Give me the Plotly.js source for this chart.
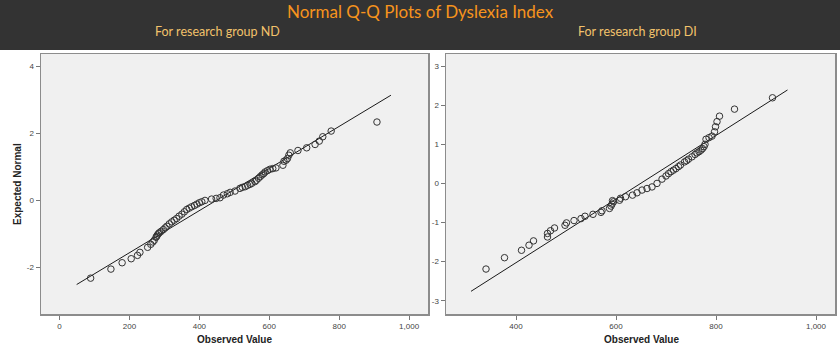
<!DOCTYPE html>
<html>
<head>
<meta charset="utf-8">
<script src="https://cdn.plot.ly/plotly-3.0.1.min.js"></script>
<style>html,body{margin:0;padding:0;background:#fff;}#chart{width:840px;height:356px;}</style>
</head>
<body>
<div id="chart"></div>
<script>
// ---- Data ----
// Group ND: observed value vs expected normal
const ndObserved = [89,147,179,205,223,230,252,261,267,271,276,278,280,283,286,291,297,302,307,314,321,328,335,342,350,357,364,371,378,386,393,400,407,416,435,448,459,469,480,488,502,516,523,531,538,545,550,559,563,569,574,579,584,588,595,602,610,619,639,642,648,652,656,660,682,707,731,743,753,777,908];
const ndExpected = [-2.32,-2.05,-1.86,-1.74,-1.64,-1.55,-1.40,-1.31,-1.24,-1.19,-1.10,-1.07,-1.03,-0.99,-0.96,-0.92,-0.87,-0.82,-0.77,-0.70,-0.64,-0.59,-0.54,-0.47,-0.41,-0.34,-0.27,-0.23,-0.19,-0.15,-0.11,-0.07,-0.04,0.00,0.04,0.06,0.08,0.16,0.20,0.24,0.28,0.36,0.39,0.41,0.45,0.48,0.51,0.56,0.60,0.66,0.71,0.76,0.80,0.85,0.89,0.93,0.95,0.97,1.05,1.17,1.20,1.25,1.35,1.42,1.49,1.57,1.67,1.77,1.90,2.07,2.34];
const ndLineX = [49, 948];
const ndLineY = [-2.51, 3.14];

// Group DI
const diObserved = [340,377,411,426,435,463,463,469,477,498,501,516,530,538,554,570,572,587,590,592,593,595,607,609,619,633,642,652,662,672,682,692,700,705,710,715,720,725,729,737,741,745,752,758,762,766,770,773,776,778,780,786,792,797,799,802,807,837,913];
const diExpected = [-2.19,-1.90,-1.71,-1.58,-1.47,-1.37,-1.28,-1.21,-1.14,-1.07,-1.01,-0.95,-0.90,-0.84,-0.79,-0.74,-0.70,-0.64,-0.58,-0.53,-0.44,-0.47,-0.43,-0.38,-0.34,-0.30,-0.24,-0.17,-0.13,-0.09,0.00,0.11,0.19,0.25,0.30,0.34,0.38,0.43,0.47,0.55,0.58,0.62,0.68,0.74,0.78,0.81,0.85,0.89,0.94,1.00,1.13,1.17,1.21,1.32,1.45,1.58,1.72,1.90,2.19];
const diLineX = [310, 943];
const diLineY = [-2.76, 2.39];

// Tick labels
const ndXTicks = [0, 200, 400, 600, 800, 1000];
const ndXTickText = ["0", "200", "400", "600", "800", "1,000"];
const ndYTicks = [4, 2, 0, -2];
const ndYTickText = ["4", "2", "0", "-2"];
const diXTicks = [400, 600, 800, 1000];
const diXTickText = ["400", "600", "800", "1,000"];
const diYTicks = [3, 2, 1, 0, -1, -2, -3];
const diYTickText = ["3", "2", "1", "0", "-1", "-2", "-3"];

// Texts
const mainTitle = "Normal Q-Q Plots of Dyslexia Index";
const subTitles = ["For research group ND", "For research group DI"];
const xTitle = "Observed Value";
const yTitle = "Expected Normal";

// ---- Layout helpers ----
const W = 840, H = 356;
const px = v => v / W;
const py = v => 1 - v / H;

const markerStyle = {symbol: 'circle-open', size: 6.5, color: '#333', line: {width: 1, color: '#333'}};
const lineStyle = {color: '#1a1a1a', width: 1};

const traces = [
  {x: ndLineX, y: ndLineY, mode: 'lines', line: lineStyle, xaxis: 'x', yaxis: 'y', hoverinfo: 'skip'},
  {x: ndObserved, y: ndExpected, mode: 'markers', marker: markerStyle, xaxis: 'x', yaxis: 'y'},
  {x: diLineX, y: diLineY, mode: 'lines', line: lineStyle, xaxis: 'x2', yaxis: 'y2', hoverinfo: 'skip'},
  {x: diObserved, y: diExpected, mode: 'markers', marker: markerStyle, xaxis: 'x2', yaxis: 'y2'}
];

const axBase = {
  showgrid: false, zeroline: false, showline: true, mirror: true,
  linecolor: '#8c8c8c', linewidth: 1.5,
  ticks: 'outside', ticklen: 4, tickcolor: '#777', tickwidth: 1,
  tickfont: {family: 'Liberation Sans, Arial, sans-serif', size: 8, color: '#444'},
  fixedrange: true
};
const yDomain = [1 - 314 / H, 1 - 54 / H];

const layout = {
  width: W, height: H,
  margin: {l: 0, r: 0, t: 0, b: 0},
  paper_bgcolor: '#ffffff',
  plot_bgcolor: '#f0f0f0',
  showlegend: false,
  xaxis: Object.assign({}, axBase, {domain: [px(41), px(428)], range: [-53, 1054], tickmode: 'array', tickvals: ndXTicks, ticktext: ndXTickText, anchor: 'y'}),
  yaxis: Object.assign({}, axBase, {domain: yDomain, range: [-3.39, 4.37], tickmode: 'array', tickvals: ndYTicks, ticktext: ndYTickText, anchor: 'x'}),
  xaxis2: Object.assign({}, axBase, {domain: [px(446), px(835)], range: [260, 1038], tickmode: 'array', tickvals: diXTicks, ticktext: diXTickText, anchor: 'y2'}),
  yaxis2: Object.assign({}, axBase, {domain: yDomain, range: [-3.34, 3.31], tickmode: 'array', tickvals: diYTicks, ticktext: diYTickText, anchor: 'x2'}),
  shapes: [
    {type: 'rect', xref: 'paper', yref: 'paper', x0: 0, x1: 1, y0: py(50), y1: 1, fillcolor: '#333333', line: {width: 0}, layer: 'below'}
  ],
  annotations: [
    {text: mainTitle, xref: 'paper', yref: 'paper', x: 0.5, y: py(11), xanchor: 'center', yanchor: 'middle', showarrow: false,
     font: {family: 'Lato, Open Sans, sans-serif', size: 17, color: '#f7941d'}},
    {text: subTitles[0], xref: 'paper', yref: 'paper', x: px(217), y: py(31), xanchor: 'center', yanchor: 'middle', showarrow: false,
     font: {family: 'Lato, Open Sans, sans-serif', size: 12.5, color: '#f2c26b'}},
    {text: subTitles[1], xref: 'paper', yref: 'paper', x: px(637), y: py(31), xanchor: 'center', yanchor: 'middle', showarrow: false,
     font: {family: 'Lato, Open Sans, sans-serif', size: 12.5, color: '#f2c26b'}},
    {text: '<b>' + xTitle + '</b>', xref: 'paper', yref: 'paper', x: px(234.5), y: py(339), xanchor: 'center', yanchor: 'middle', showarrow: false,
     font: {family: 'Liberation Sans, Arial, sans-serif', size: 10, color: '#222'}},
    {text: '<b>' + xTitle + '</b>', xref: 'paper', yref: 'paper', x: px(641), y: py(339), xanchor: 'center', yanchor: 'middle', showarrow: false,
     font: {family: 'Liberation Sans, Arial, sans-serif', size: 10, color: '#222'}},
    {text: '<b>' + yTitle + '</b>', xref: 'paper', yref: 'paper', x: px(17), y: py(184), xanchor: 'center', yanchor: 'middle', showarrow: false, textangle: -90,
     font: {family: 'Liberation Sans, Arial, sans-serif', size: 10, color: '#222'}}
  ]
};

Plotly.newPlot('chart', traces, layout, {staticPlot: true, displayModeBar: false});
</script>
</body>
</html>
